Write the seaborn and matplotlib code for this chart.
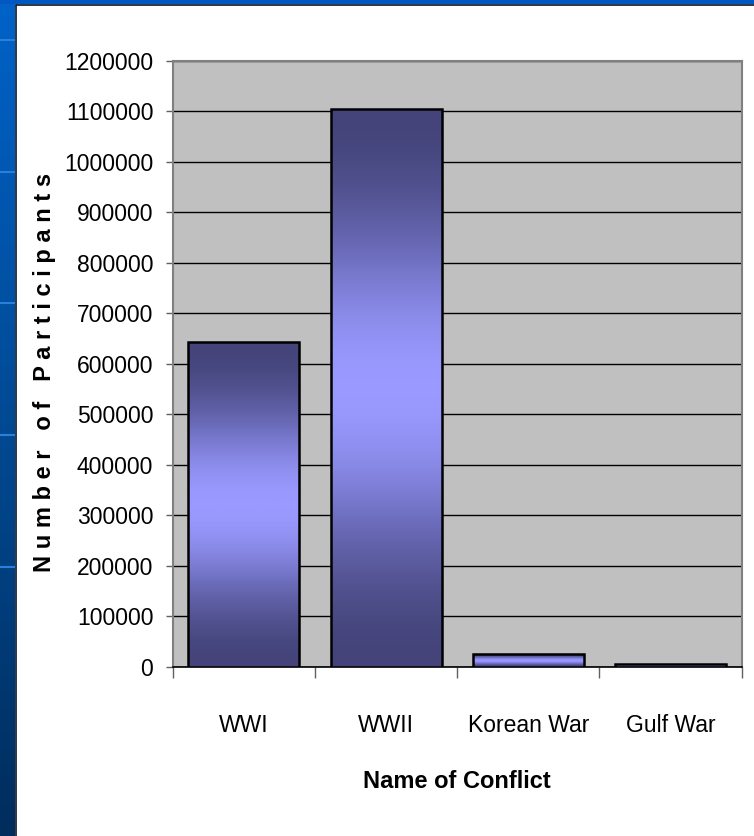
import numpy as np
import pandas as pd
import matplotlib
matplotlib.use("Agg")
import matplotlib.pyplot as plt
from matplotlib.colors import LinearSegmentedColormap
import seaborn as sns

categories = ["WWI", "WWII", "Korean War", "Gulf War"]
participants = [643000, 1105000, 25000, 5000]
yticks = list(range(0, 1200001, 100000))
x_title = "Name of Conflict"
y_title = "N u m b e r   o f   P a r t i c i p a n t s"

df = pd.DataFrame({"conflict": categories, "participants": participants})

sns.set_theme(style="white")
FONT = ["Liberation Sans Narrow", "Liberation Sans", "DejaVu Sans"]
plt.rcParams["font.family"] = FONT
plt.rcParams["text.color"] = "black"

W, H = 754, 836
fig = plt.figure(figsize=(W / 100, H / 100), dpi=100, facecolor="white")

# slide frame: left blue strip with gradient and top strip
left = fig.add_axes([0, 0, 15 / W, 1])
g = np.linspace(0, 1, 256).reshape(-1, 1)
frame_cmap = LinearSegmentedColormap.from_list("frame", ["#0062c8", "#004a94", "#002d5c"])
left.imshow(g, aspect="auto", cmap=frame_cmap, extent=[0, 1, 0, H], origin="upper")
for yy in [40, 172, 303, 435, 567]:
    left.axhline(H - yy, color="#2a80d8", lw=1.5)
left.set_xlim(0, 1)
left.set_ylim(0, H)
left.axis("off")
top = fig.add_axes([0, 1 - 4 / H, 1, 4 / H])
top.set_facecolor("#0058c0")
top.set_xticks([]); top.set_yticks([])
for s in top.spines.values():
    s.set_visible(False)
fig.add_artist(plt.Line2D([15.5 / W, 15.5 / W], [0, 1 - 4.5 / H], color="#0a1428", lw=1.2))
fig.add_artist(plt.Line2D([15.5 / W, 1], [1 - 4.5 / H, 1 - 4.5 / H], color="#0a1428", lw=1.2))

# main axes
x0, x1 = 172.7, 741.7
y0, y1 = 60.7, 666.7
ax = fig.add_axes([x0 / W, 1 - y1 / H, (x1 - x0) / W, (y1 - y0) / H])
ax.set_facecolor("#c0c0c0")

sns.barplot(data=df, x="conflict", y="participants", ax=ax, width=0.78,
            color="#9999ff", edgecolor="black", linewidth=1.8, zorder=3)

bar_cmap = LinearSegmentedColormap.from_list("bar", ["#44447a", "#6a6ab8", "#9999ff"])
t = np.linspace(0, 1, 200)
grad = (np.sin(np.pi * t) ** 2).reshape(-1, 1)
for p in list(ax.patches):
    bx, by = p.get_x(), p.get_y()
    bw, bh = p.get_width(), p.get_height()
    im = ax.imshow(grad, extent=[bx, bx + bw, by, by + bh], aspect="auto",
                   cmap=bar_cmap, vmin=0, vmax=1, origin="lower", zorder=3.5)
    im.set_clip_path(p)
    p.set_facecolor("none")
    p.set_zorder(4)

ax.set_xlim(-0.5, 3.5)
ax.set_ylim(0, 1200000)
ax.set_aspect("auto")
ax.set_yticks(yticks)
ax.set_yticklabels([str(v) for v in yticks])
ax.yaxis.grid(True, color="black", lw=1)
ax.set_axisbelow(True)

ax.set_xticks(range(len(categories)))
ax.set_xticklabels(categories)
ax.set_xticks([-0.5, 0.5, 1.5, 2.5, 3.5], minor=True)
ax.tick_params(axis="x", which="major", length=0, pad=34, labelsize=16.5, labelcolor="black")
ax.tick_params(axis="x", which="minor", length=8, width=1, color="#606060", direction="out", bottom=True)
ax.tick_params(axis="y", length=5, width=1, color="#606060", direction="out", left=True, pad=9,
               labelsize=16.5, labelcolor="black")

for side in ["left", "top", "right"]:
    ax.spines[side].set_color("#808080")
    ax.spines[side].set_linewidth(1.5)
ax.spines["bottom"].set_color("black")
ax.spines["bottom"].set_linewidth(1.2)

ax.set_xlabel("")
ax.set_ylabel("")
fig.text(457 / W, 1 - 781 / H, x_title, ha="center", va="center", fontsize=17,
         fontweight="bold", color="black")
fig.text(45 / W, 1 - 372 / H, y_title, ha="center", va="center", rotation=90, fontsize=17,
         fontweight="bold", color="black")

fig.savefig("out.png", dpi=100, facecolor="white")
